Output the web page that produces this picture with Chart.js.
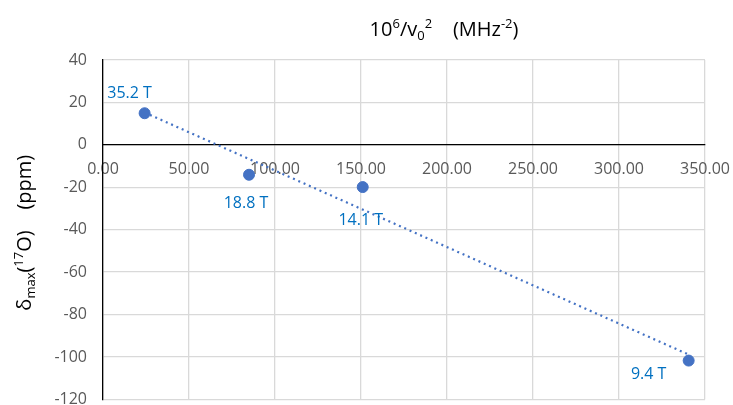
<!DOCTYPE html>
<html>
<head>
<meta charset="utf-8">
<script src="https://cdn.jsdelivr.net/npm/chart.js@4/dist/chart.umd.min.js"></script>
<style>
  html, body { margin: 0; background: #ffffff; overflow: hidden; }
  #caixa { width: 733px; height: 425px; }
</style>
</head>
<body>
<div id="caixa"><canvas id="grafico"></canvas></div>
<script>
// dados: campo magnético, 10^6/v0^2 e deslocamento máximo
const campos = ['35.2 T', '18.8 T', '14.1 T', '9.4 T'];
const inv_nu2 = [24.2, 84.9, 151.0, 340.5];
const delta_max = [14.9, -14.1, -19.9, -101.7];
const x_ticks = [0, 50, 100, 150, 200, 250, 300, 350];
const y_ticks = [-120, -100, -80, -60, -40, -20, 0, 20, 40];

// deslocamento de cada rótulo em relação ao ponto (px)
const desloc_rotulo = [[-15, -20], [-3, 29], [-2, 33], [-40, 14]];

const AZUL = '#4472C4';
const AZUL_TXT = '#0070C0';
const CINZA_TXT = '#595959';
const FONTE = '"Open Sans", sans-serif';

// reta de tendência (mínimos quadrados)
function tendencia(xs, ys) {
  let n = xs.length, mx = 0, my = 0;
  for (let i = 0; i < n; i++) { mx += xs[i]; my += ys[i]; }
  mx /= n; my /= n;
  let sxy = 0, sxx = 0;
  for (let i = 0; i < n; i++) {
    sxy += (xs[i] - mx) * (ys[i] - my);
    sxx += (xs[i] - mx) * (xs[i] - mx);
  }
  let a = sxy / sxx;
  let b = my - a * mx;
  let x0 = Math.min(...xs), x1 = Math.max(...xs);
  return [{x: x0, y: a * x0 + b}, {x: x1, y: a * x1 + b}];
}

// escreve texto com sobrescrito/subscrito
function texto_rico(ctx, partes, tam) {
  let largura = 0;
  partes.forEach(p => {
    ctx.font = (p.sup || p.sub ? tam * 0.65 : tam) + 'px ' + FONTE;
    p.w = ctx.measureText(p.t).width;
    largura += p.w;
  });
  return largura;
}
function desenha_rico(ctx, partes, tam, x, y) {
  let w = texto_rico(ctx, partes, tam);
  let cx = x - w / 2;
  ctx.textBaseline = 'alphabetic';
  ctx.textAlign = 'left';
  partes.forEach(p => {
    ctx.font = (p.sup || p.sub ? tam * 0.65 : tam) + 'px ' + FONTE;
    let dy = p.sup ? -tam * 0.4 : (p.sub ? tam * 0.22 : 0);
    ctx.fillText(p.t, cx, y + dy);
    cx += p.w;
  });
}

const titulos = {
  id: 'titulos',
  afterDraw(chart) {
    const ctx = chart.ctx;
    const area = chart.chartArea;
    ctx.save();
    ctx.fillStyle = '#000000';
    desenha_rico(ctx, [
      {t: '10'}, {t: '6', sup: true}, {t: '/v'}, {t: '0', sub: true}, {t: '2', sup: true},
      {t: '    (MHz'}, {t: '-2', sup: true}, {t: ')'}
    ], 20, 444, 36);
    ctx.translate(31, (area.top + area.bottom) / 2 + 3);
    ctx.rotate(-Math.PI / 2);
    desenha_rico(ctx, [
      {t: 'δ'}, {t: 'max', sub: true}, {t: '('}, {t: '17', sup: true}, {t: 'O)    (ppm)'}
    ], 20, 0, 0);
    ctx.restore();
  }
};

const rotulos = {
  id: 'rotulos',
  afterDatasetsDraw(chart) {
    const ctx = chart.ctx;
    const meta = chart.getDatasetMeta(0);
    ctx.save();
    ctx.font = '16px ' + FONTE;
    ctx.fillStyle = AZUL_TXT;
    ctx.textAlign = 'center';
    ctx.textBaseline = 'middle';
    meta.data.forEach((pt, i) => {
      ctx.fillText(campos[i], pt.x + desloc_rotulo[i][0], pt.y + desloc_rotulo[i][1]);
    });
    ctx.restore();
  }
};

function renderiza_grafico() {
  const ctx = document.getElementById('grafico').getContext('2d');
  new Chart(ctx, {
    type: 'scatter',
    data: {
      datasets: [{
        label: 'delta',
        data: inv_nu2.map((x, i) => ({x: x, y: delta_max[i]})),
        backgroundColor: AZUL,
        borderColor: AZUL,
        pointRadius: 5.5,
        order: 1
      }, {
        label: 'tendencia',
        type: 'line',
        data: tendencia(inv_nu2, delta_max),
        borderColor: AZUL,
        borderWidth: 2.2,
        borderDash: [2, 3.8],
        pointRadius: 0,
        fill: false,
        order: 2
      }]
    },
    options: {
      responsive: true,
      maintainAspectRatio: false,
      animation: false,
      layout: { padding: { top: 60, right: 28, bottom: 0, left: 0 } },
      plugins: { legend: { display: false }, tooltip: { enabled: false } },
      scales: {
        x: {
          type: 'linear',
          position: { y: 0 },
          min: x_ticks[0],
          max: x_ticks[x_ticks.length - 1],
          afterBuildTicks: s => { s.ticks = x_ticks.map(v => ({value: v})); },
          afterFit: s => { s.paddingRight = 0; },
          ticks: {
            callback: v => v.toFixed(2),
            color: CINZA_TXT,
            font: { family: FONTE, size: 16 },
            padding: 15,
            maxRotation: 0,
            autoSkip: false
          },
          grid: { color: '#D9D9D9', lineWidth: 1.3, drawTicks: false },
          border: { color: '#000000', width: 1.3 }
        },
        y: {
          min: y_ticks[0],
          max: y_ticks[y_ticks.length - 1],
          afterBuildTicks: s => { s.ticks = y_ticks.map(v => ({value: v})); },
          afterFit: s => { s.width = 103; },
          ticks: {
            color: CINZA_TXT,
            font: { family: FONTE, size: 16 },
            padding: 16
          },
          grid: { color: '#D9D9D9', lineWidth: 1.3, drawTicks: false },
          border: { color: '#000000', width: 1.3 }
        }
      }
    },
    plugins: [titulos, rotulos]
  });
}
renderiza_grafico();
</script>
</body>
</html>
